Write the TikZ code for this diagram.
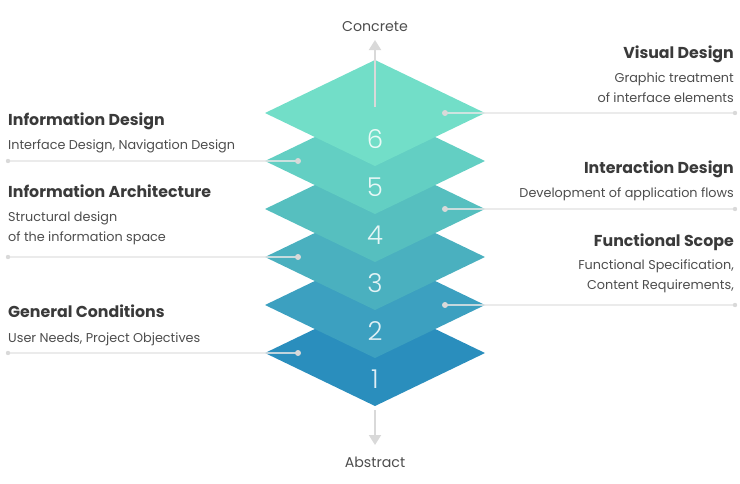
\documentclass[tikz,border=0pt]{standalone}
\usepackage{fontspec}
\setmainfont{Poppins}
\newfontfamily\numfont{Poppins}[UprightFont=* Light]
\usetikzlibrary{arrows.meta}
\definecolor{layerA}{HTML}{2A8EBD}
\definecolor{layerB}{HTML}{3CA0C0}
\definecolor{layerC}{HTML}{4AB0BF}
\definecolor{layerD}{HTML}{56BFBF}
\definecolor{layerE}{HTML}{63CFC3}
\definecolor{layerF}{HTML}{72DEC8}
\definecolor{titlegray}{HTML}{3A3A3A}
\definecolor{textgray}{HTML}{4D4D4D}
\definecolor{linegray}{HTML}{E6E6E6}
\definecolor{dotgray}{HTML}{D9D9D9}

\begin{document}
\begin{tikzpicture}[x=1pt,y=-1pt,
    layernum/.style={font=\numfont\fontsize{26}{26}\selectfont, text=white, text opacity=0.85},
    title/.style={font=\bfseries\fontsize{15.8}{18}\selectfont, text=titlegray, inner sep=0},
    desc/.style={font=\fontsize{12.8}{20}\selectfont, text=textgray, inner sep=0},
    axislabel/.style={font=\fontsize{14.2}{16}\selectfont, text=textgray, inner sep=0},
    lead/.style={draw=linegray, line width=1.5pt, draw opacity=0.8},
    axisarrow/.style={draw=dotgray, line width=2pt, -{Triangle[width=12pt,length=10pt]}}]
\useasboundingbox (0,0) rectangle (740,483);

% Layers, bottom to top
\foreach \i/\c in {1/layerA,2/layerB,3/layerC,4/layerD,5/layerE,6/layerF} {
    \coordinate (l\i) at (375,{353-48*(\i-1)});
    \fill[\c] (l\i) ++(-110,0) -- ++(110,-53) -- ++(110,53) -- ++(-110,53) -- cycle;
    \path (l\i) ++(0,26) node[layernum] (n\i) {\i};
}

% Axis
\coordinate (topstart) at (375,107);
\coordinate (toptip) at (375,40);
\coordinate (botstart) at (375,410);
\coordinate (bottip) at (375,445);
\draw[axisarrow] (topstart) -- (toptip);
\draw[axisarrow] (botstart) -- (bottip);
\node[axislabel] (concrete) at (375,27) {Concrete};
\node[axislabel] (abstract) at (375,462) {Abstract};

% Leader lines: left side
\foreach \i in {1,3,5} {
    \path (l\i) ++(-77,0) coordinate (d\i);
    \coordinate (e\i) at (8,{353-48*(\i-1)});
}
% Leader lines: right side
\foreach \i in {2,4,6} {
    \path (l\i) ++(70,0) coordinate (d\i);
    \coordinate (e\i) at (735,{353-48*(\i-1)});
}
\foreach \i in {1,...,6} {
    \draw[lead] (e\i) -- (d\i);
    \fill[dotgray] (d\i) circle (3pt);
    \fill[dotgray] (e\i) circle (2.2pt);
}

% Left labels (two-line texts sit on the baseline of their last line)
\node[title, anchor=base west] (infodesign) at (8,125) {Information Design};
\node[desc, anchor=base west] (infodesigntxt) at (8,149.5) {Interface Design, Navigation Design};
\node[title, anchor=base west] (infoarch) at (8,197) {Information Architecture};
\node[desc, anchor=base west, align=left] (infoarchtxt) at (8,241.5) {Structural design\\of the information space};
\node[title, anchor=base west] (general) at (8,317) {General Conditions};
\node[desc, anchor=base west] (generaltxt) at (8,342.5) {User Needs, Project Objectives};

% Right labels
\node[title, anchor=base east] (visual) at (734,58) {Visual Design};
\node[desc, anchor=base east, align=right] (visualtxt) at (734,102.5) {Graphic treatment\\of interface elements};
\node[title, anchor=base east] (interaction) at (734,173) {Interaction Design};
\node[desc, anchor=base east] (interactiontxt) at (734,197.5) {Development of application flows};
\node[title, anchor=base east] (functional) at (734,246) {Functional Scope};
\node[desc, anchor=base east, align=right] (functionaltxt) at (734,289.5) {Functional Specification,\\Content Requirements,};
\end{tikzpicture}
\end{document}
